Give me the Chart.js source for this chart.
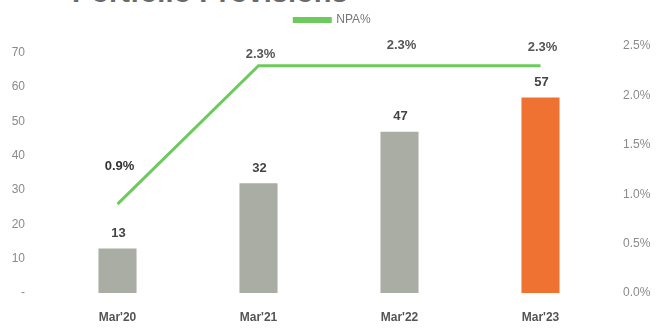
<!DOCTYPE html>
<html lang="en">
<head>
    <meta charset="UTF-8">
    <title>Portfolio Provisions</title>
    <script src="https://cdn.jsdelivr.net/npm/chart.js"></script>
    <style>
        html, body { margin: 0; padding: 0; background: #fff; }
        .wrap { position: relative; width: 665px; height: 329px; overflow: hidden; }
        .titulo {
            position: absolute; left: 72px; top: -22px; margin: 0;
            font: bold 29px/29px "Liberation Sans", Arial, sans-serif; color: #6a6a6a;
            white-space: nowrap;
        }
        canvas { position: absolute; left: 0; top: 0; }
    </style>
</head>
<body>
    <div class="wrap">
        <h1 class="titulo">Portfolio Provisions</h1>
        <canvas id="chart" width="665" height="329"></canvas>
    </div>

    <script>
        // Datos
        const categorias = ["Mar'20", "Mar'21", "Mar'22", "Mar'23"];
        const provisiones = [13, 32, 47, 57];
        const npa = [0.9, 2.3, 2.3, 2.3];
        const etiquetasNpa = ['0.9%', '2.3%', '2.3%', '2.3%'];
        const ticksIzq = [0, 10, 20, 30, 40, 50, 60, 70];
        const ticksDer = [0, 0.5, 1.0, 1.5, 2.0, 2.5];

        const coloresBarras = ['#aaada4', '#aaada4', '#aaada4', '#f07232'];
        const subidaNpa = [38, 11, 20, 18];

        // Etiquetas sobre barras y línea
        const etiquetas = {
            id: 'etiquetas',
            afterDatasetsDraw(chart) {
                const ctx = chart.ctx;
                ctx.save();
                ctx.textAlign = 'center';
                ctx.textBaseline = 'middle';
                ctx.font = 'bold 13px "Liberation Sans", Arial, sans-serif';
                chart.getDatasetMeta(1).data.forEach((bar, i) => {
                    ctx.fillStyle = '#444';
                    ctx.fillText(String(provisiones[i]), bar.x + 1, bar.y - 15);
                });
                chart.getDatasetMeta(0).data.forEach((pt, i) => {
                    ctx.fillStyle = i === 0 ? '#333' : '#555';
                    ctx.fillText(etiquetasNpa[i], pt.x + 2, pt.y - subidaNpa[i]);
                });
                ctx.restore();
            }
        };

        const ctx = document.getElementById('chart').getContext('2d');
        new Chart(ctx, {
            data: {
                labels: categorias,
                datasets: [
                    {
                        type: 'line',
                        label: 'NPA%',
                        data: npa,
                        yAxisID: 'y1',
                        borderColor: '#6dcb5e',
                        backgroundColor: '#6dcb5e',
                        borderWidth: 3,
                        pointRadius: 0,
                        tension: 0
                    },
                    {
                        type: 'bar',
                        label: 'Provisiones',
                        data: provisiones,
                        yAxisID: 'y',
                        backgroundColor: coloresBarras,
                        barPercentage: 0.27,
                        categoryPercentage: 1
                    }
                ]
            },
            options: {
                responsive: false,
                animation: false,
                layout: { padding: { top: 6 } },
                plugins: {
                    legend: {
                        position: 'top',
                        labels: {
                            filter: item => item.datasetIndex === 0,
                            boxWidth: 36,
                            boxHeight: 3,
                            padding: 8,
                            color: '#777',
                            font: { family: '"Liberation Sans", Arial, sans-serif', size: 12 }
                        }
                    },
                    // espacio entre leyenda y área del gráfico
                    title: {
                        display: true,
                        text: '',
                        weight: 500,
                        font: { size: 1, lineHeight: 1 },
                        padding: { top: 0, bottom: 9 }
                    },
                    tooltip: { enabled: false }
                },
                scales: {
                    x: {
                        grid: { display: false },
                        border: { display: false },
                        ticks: {
                            padding: 9,
                            color: '#555',
                            font: { family: '"Liberation Sans", Arial, sans-serif', size: 12, weight: 'bold' }
                        },
                        afterFit: s => { s.height = 36; }
                    },
                    y: {
                        position: 'left',
                        min: 0,
                        max: 72,
                        grid: { display: false, drawTicks: false },
                        border: { display: false },
                        afterBuildTicks: s => { s.ticks = ticksIzq.map(v => ({ value: v })); },
                        ticks: {
                            padding: 22,
                            color: '#8a8a8a',
                            font: { family: '"Liberation Sans", Arial, sans-serif', size: 12 },
                            callback: v => v === 0 ? '-' : v
                        },
                        afterFit: s => { s.width = 47; }
                    },
                    y1: {
                        position: 'right',
                        min: 0,
                        max: 2.5,
                        grid: { display: false, drawTicks: false },
                        border: { display: false },
                        afterBuildTicks: s => { s.ticks = ticksDer.map(v => ({ value: v })); },
                        ticks: {
                            padding: 12,
                            color: '#8a8a8a',
                            font: { family: '"Liberation Sans", Arial, sans-serif', size: 12 },
                            callback: v => v.toFixed(1) + '%'
                        },
                        afterFit: s => { s.width = 54; }
                    }
                }
            },
            plugins: [etiquetas]
        });
    </script>
</body>
</html>
